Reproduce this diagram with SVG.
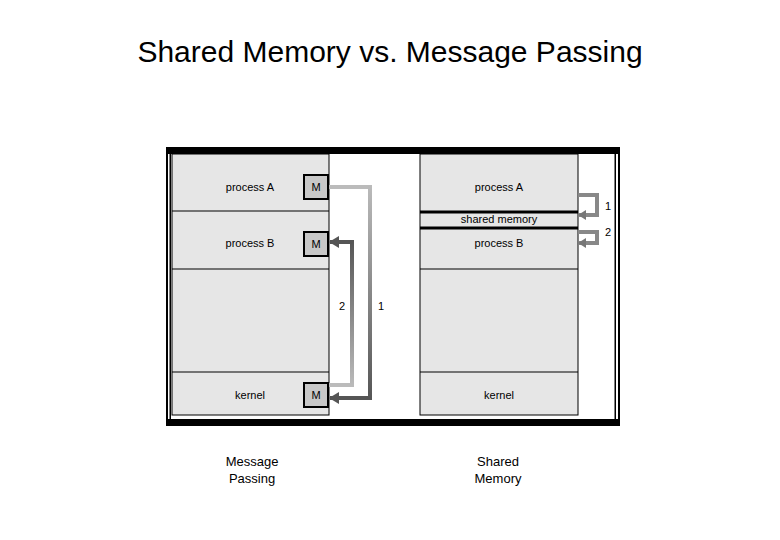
<svg xmlns="http://www.w3.org/2000/svg" width="780" height="540" viewBox="0 0 780 540">
<defs>
<style>
text{font-family:"Liberation Sans",Arial,sans-serif;fill:#000}
.col{fill:#e6e6e6;stroke:#000;stroke-width:1}
.t{font-size:11px;text-anchor:middle}
.m{fill:#c8c8c8;stroke:#000;stroke-width:2}
.ln{stroke:#000;stroke-width:1}
.thick{stroke:#000;stroke-width:3}
</style>
<linearGradient id="gd" x1="0" y1="0" x2="0" y2="1"><stop offset="0" stop-color="#bbb"/><stop offset="1" stop-color="#555"/></linearGradient>
<linearGradient id="gu" x1="0" y1="1" x2="0" y2="0"><stop offset="0" stop-color="#bbb"/><stop offset="1" stop-color="#555"/></linearGradient>
<marker id="ah" markerWidth="10" markerHeight="12" refX="9" refY="6" orient="auto" markerUnits="userSpaceOnUse"><path d="M0,0 L10,6 L0,12 z" fill="#555"/></marker>
<marker id="ah2" markerWidth="8" markerHeight="10" refX="7" refY="5" orient="auto" markerUnits="userSpaceOnUse"><path d="M0,0 L8,5 L0,10 z" fill="#777"/></marker>
</defs>
<rect width="780" height="540" fill="#fff"/>
<text x="390" y="62" font-size="30" text-anchor="middle">Shared Memory vs. Message Passing</text>
<g id="frame">
<rect x="166" y="147" width="454" height="7" fill="#000"/>
<rect x="166" y="419" width="454" height="7" fill="#000"/>
<rect x="166" y="147" width="2" height="279" fill="#000"/>
<rect x="169.5" y="150" width="1.5" height="273" fill="#000"/>
<rect x="618" y="147" width="2" height="279" fill="#000"/>
<rect x="614.5" y="150" width="1.5" height="273" fill="#000"/>
</g>
<g id="left">
<rect class="col" x="172" y="154" width="157" height="261"/>
<line class="ln" x1="172" y1="211" x2="329" y2="211"/>
<line class="ln" x1="172" y1="269" x2="329" y2="269"/>
<line class="ln" x1="172" y1="372" x2="329" y2="372"/>
<text class="t" x="250" y="191">process A</text>
<text class="t" x="250" y="247">process B</text>
<text class="t" x="250" y="399">kernel</text>
</g>
<g id="mA"><rect class="m" x="304" y="175" width="24" height="24"/><text class="t" x="316" y="191">M</text></g>
<g id="mB"><rect class="m" x="304" y="232" width="24" height="24"/><text class="t" x="316" y="248">M</text></g>
<g id="mK"><rect class="m" x="304" y="383" width="24" height="24"/><text class="t" x="316" y="399">M</text></g>
<g id="right">
<rect class="col" x="420" y="154" width="158" height="261"/>
<line class="thick" x1="420" y1="212" x2="578" y2="212"/>
<line class="thick" x1="420" y1="228" x2="578" y2="228"/>
<line class="ln" x1="420" y1="269" x2="578" y2="269"/>
<line class="ln" x1="420" y1="372" x2="578" y2="372"/>
<text class="t" x="499" y="191">process A</text>
<text class="t" x="499" y="223">shared memory</text>
<text class="t" x="499" y="247">process B</text>
<text class="t" x="499" y="399">kernel</text>
</g>
<g id="connectors" fill="none">
<path d="M329,187 H372" stroke="#bbb" stroke-width="4"/>
<rect x="368" y="185" width="4" height="215" fill="url(#gd)" stroke="none"/>
<path d="M370,398 H330" stroke="#555" stroke-width="4" marker-end="url(#ah)"/>
<path d="M329,385 H354" stroke="#bbb" stroke-width="4"/>
<rect x="350" y="240" width="4" height="147" fill="url(#gu)" stroke="none"/>
<path d="M352,242 H330" stroke="#555" stroke-width="4" marker-end="url(#ah)"/>
<path d="M578,195 H597 V215 H579" stroke="#888" stroke-width="4" marker-end="url(#ah2)"/>
<path d="M578,232 H597 V243 H579" stroke="#888" stroke-width="4" marker-end="url(#ah2)"/>
</g>
<g id="labels">
<text class="t" x="342" y="310">2</text>
<text class="t" x="381" y="310">1</text>
<text class="t" x="608" y="210">1</text>
<text class="t" x="608" y="236">2</text>
<text x="252" y="466" font-size="13" text-anchor="middle">Message</text>
<text x="252" y="483" font-size="13" text-anchor="middle">Passing</text>
<text x="498" y="466" font-size="13" text-anchor="middle">Shared</text>
<text x="498" y="483" font-size="13" text-anchor="middle">Memory</text>
</g>
</svg>
